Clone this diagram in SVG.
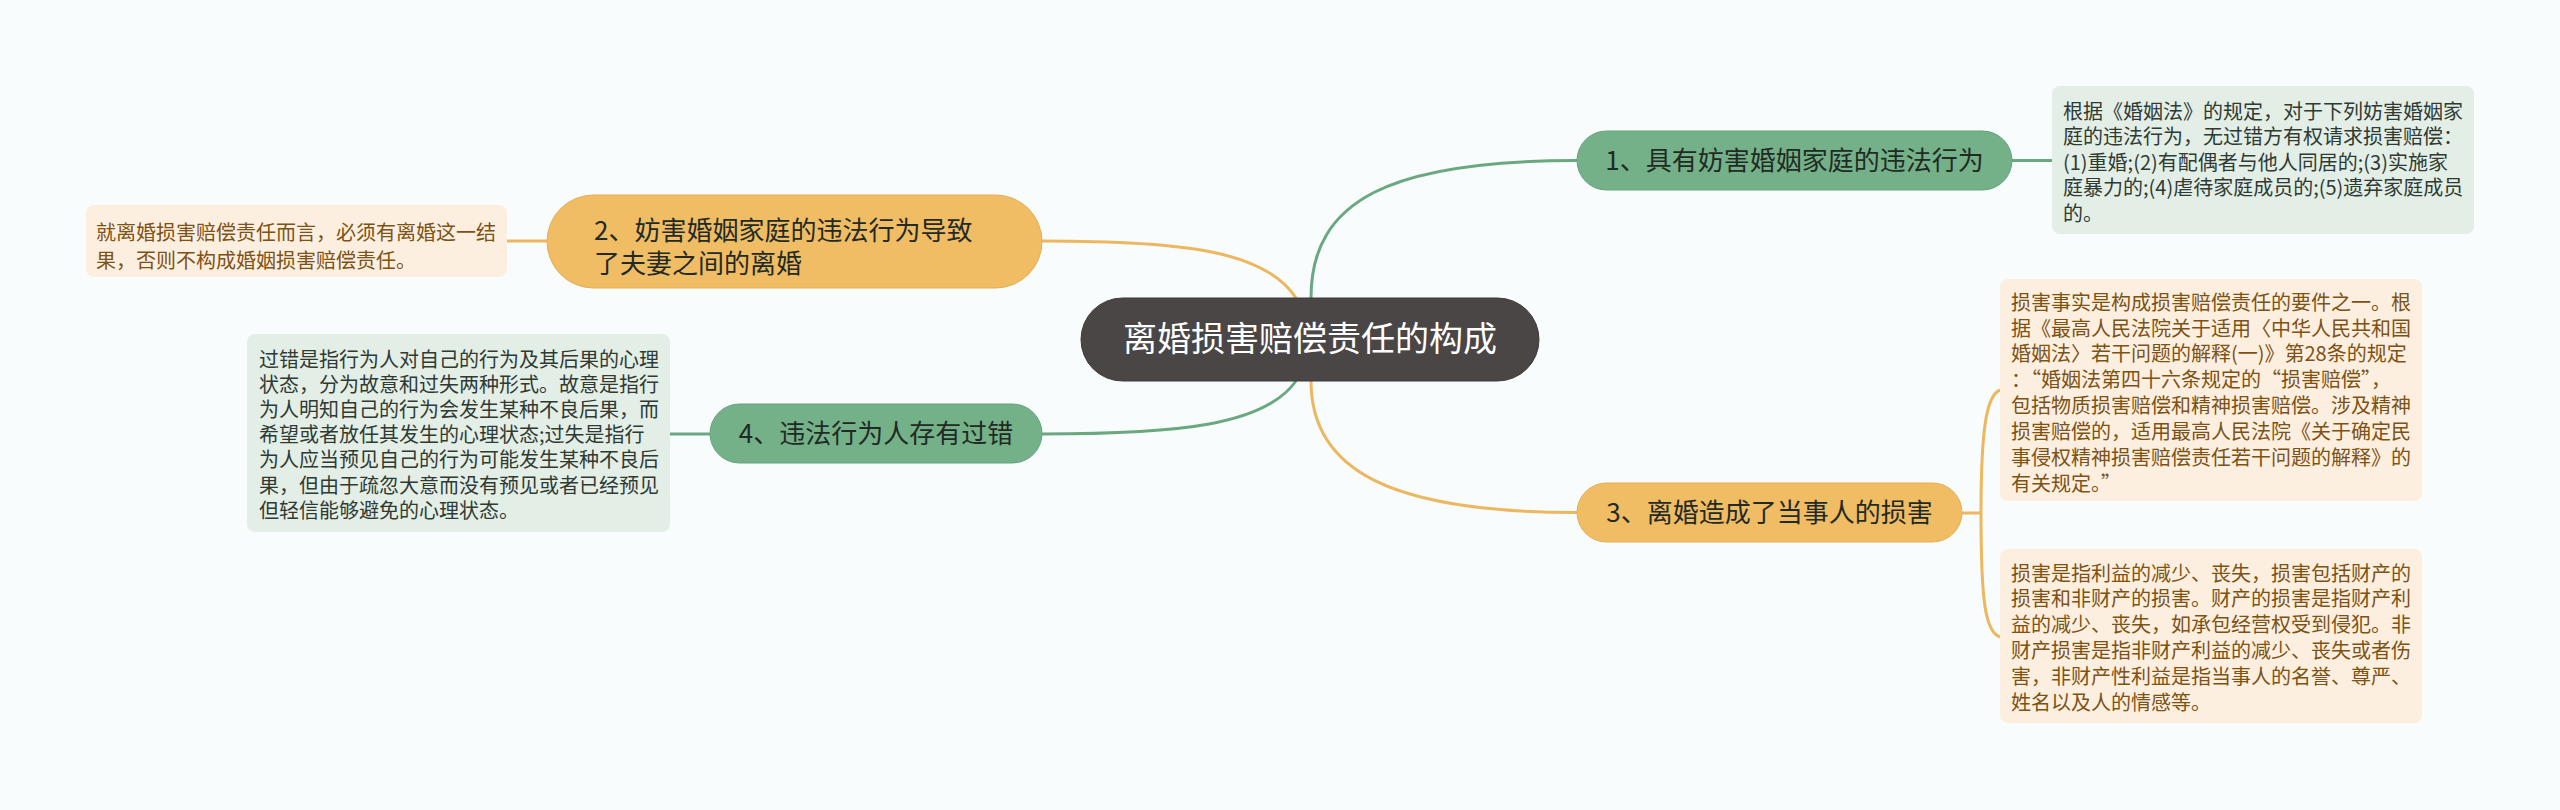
<svg xmlns="http://www.w3.org/2000/svg" width="2560" height="810" viewBox="0 0 2560 810">
<style>
.bg{fill:#f8fcfc}
.t{font-family:"Noto Sans CJK SC","Noto Sans",sans-serif}
.cn{fill:#4b4646;stroke:#3d3939;stroke-width:1}
.cnt{fill:#ffffff;font-size:34px}
.gn{fill:#74b189;stroke:#66a37c;stroke-width:1}
.on{fill:#f0bc64;stroke:#e5ae55;stroke-width:1}
.nt{fill:#222a24;font-size:26px}
.gd{fill:#e3eee7}
.gdt{fill:#2f3a33;font-size:20px}
.od{fill:#fcefdf}
.odt{fill:#7d5215;font-size:20px}
.lg{fill:none;stroke:#6aa881;stroke-width:3}
.lo{fill:none;stroke:#ecb75e;stroke-width:3}
</style>
<rect class="bg" x="0" y="0" width="2560" height="810"/>
<g id="connectors">
<path class="lg" d="M1311,298 C1311,200 1390,160.5 1577,160.5"/>
<path class="lo" d="M1311,381 C1311,470 1390,512.5 1577,512.5"/>
<path class="lo" d="M1296,298 C1265,250 1180,241 1042,241"/>
<path class="lg" d="M1296,381 C1265,425 1180,434 1042,434"/>
<path class="lg" d="M2012,160.5 H2052"/>
<path class="lo" d="M547,241 H507"/>
<path class="lg" d="M710,434 H670"/>
<path class="lo" d="M1962,513 H1981"/>
<path class="lo" d="M1981,513 C1981,420 1988,395 2000,390"/>
<path class="lo" d="M1981,513 C1981,600 1985,632 2000,637"/>
</g>
<g id="center">
<rect class="cn" x="1081" y="298" width="458" height="83" rx="41.5"/>
<text class="t cnt" x="1310" y="351" text-anchor="middle">离婚损害赔偿责任的构成</text>
</g>
<g id="node1">
<rect class="gn" x="1577" y="131" width="435" height="59" rx="29.5"/>
<text class="t nt" x="1794.5" y="170" text-anchor="middle">1、具有妨害婚姻家庭的违法行为</text>
</g>
<g id="node1-detail">
<rect class="gd" x="2052" y="86" width="422" height="148" rx="8"/>
<text class="t gdt" x="2063" y="118.6">根据《婚姻法》的规定，对于下列妨害婚姻家</text>
<text class="t gdt" x="2063" y="144.1">庭的违法行为，无过错方有权请求损害赔偿：</text>
<text class="t gdt" x="2063" y="169.6">(1)重婚;(2)有配偶者与他人同居的;(3)实施家</text>
<text class="t gdt" x="2063" y="195.1">庭暴力的;(4)虐待家庭成员的;(5)遗弃家庭成员</text>
<text class="t gdt" x="2063" y="220.6">的。</text>
</g>
<g id="node2">
<rect class="on" x="547" y="195" width="495" height="93" rx="46.5"/>
<text class="t nt" x="594" y="239.5">2、妨害婚姻家庭的违法行为导致</text>
<text class="t nt" x="594" y="272.5">了夫妻之间的离婚</text>
</g>
<g id="node2-detail">
<rect class="od" x="86" y="205" width="421" height="72" rx="8"/>
<text class="t odt" x="96" y="239.6">就离婚损害赔偿责任而言，必须有离婚这一结</text>
<text class="t odt" x="96" y="267.6">果，否则不构成婚姻损害赔偿责任。</text>
</g>
<g id="node3">
<rect class="on" x="1577" y="483" width="385" height="59" rx="29.5"/>
<text class="t nt" x="1769.5" y="522" text-anchor="middle">3、离婚造成了当事人的损害</text>
</g>
<g id="node3-detail-a">
<rect class="od" x="2000" y="279" width="422" height="222" rx="8"/>
<text class="t odt" x="2011" y="309.6">损害事实是构成损害赔偿责任的要件之一。根</text>
<text class="t odt" x="2011" y="335.5">据《最高人民法院关于适用〈中华人民共和国</text>
<text class="t odt" x="2011" y="361.4">婚姻法〉若干问题的解释(一)》第28条的规定</text>
<text class="t odt" x="2011" y="387.3">：“婚姻法第四十六条规定的“损害赔偿”，</text>
<text class="t odt" x="2011" y="413.2">包括物质损害赔偿和精神损害赔偿。涉及精神</text>
<text class="t odt" x="2011" y="439.1">损害赔偿的，适用最高人民法院《关于确定民</text>
<text class="t odt" x="2011" y="465">事侵权精神损害赔偿责任若干问题的解释》的</text>
<text class="t odt" x="2011" y="490.9">有关规定。”</text>
</g>
<g id="node3-detail-b">
<rect class="od" x="2000" y="549" width="422" height="174" rx="8"/>
<text class="t odt" x="2011" y="580.6">损害是指利益的减少、丧失，损害包括财产的</text>
<text class="t odt" x="2011" y="606.4">损害和非财产的损害。财产的损害是指财产利</text>
<text class="t odt" x="2011" y="632.2">益的减少、丧失，如承包经营权受到侵犯。非</text>
<text class="t odt" x="2011" y="658">财产损害是指非财产利益的减少、丧失或者伤</text>
<text class="t odt" x="2011" y="683.8">害，非财产性利益是指当事人的名誉、尊严、</text>
<text class="t odt" x="2011" y="709.6">姓名以及人的情感等。</text>
</g>
<g id="node4">
<rect class="gn" x="710" y="404" width="332" height="59" rx="29.5"/>
<text class="t nt" x="876" y="443" text-anchor="middle">4、违法行为人存有过错</text>
</g>
<g id="node4-detail">
<rect class="gd" x="247" y="334" width="423" height="198" rx="8"/>
<text class="t gdt" x="259" y="366.6">过错是指行为人对自己的行为及其后果的心理</text>
<text class="t gdt" x="259" y="391.8">状态，分为故意和过失两种形式。故意是指行</text>
<text class="t gdt" x="259" y="417">为人明知自己的行为会发生某种不良后果，而</text>
<text class="t gdt" x="259" y="442.2">希望或者放任其发生的心理状态;过失是指行</text>
<text class="t gdt" x="259" y="467.4">为人应当预见自己的行为可能发生某种不良后</text>
<text class="t gdt" x="259" y="492.6">果，但由于疏忽大意而没有预见或者已经预见</text>
<text class="t gdt" x="259" y="517.8">但轻信能够避免的心理状态。</text>
</g>
</svg>
